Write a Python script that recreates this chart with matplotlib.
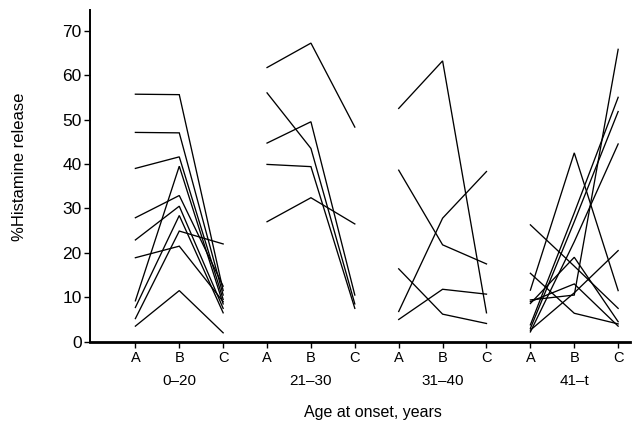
import matplotlib
matplotlib.use("Agg")
import matplotlib.pyplot as plt
import matplotlib.transforms as mtransforms

plt.rcParams['font.family'] = ['Liberation Sans', 'DejaVu Sans']

groups = ["0\u201320", "21\u201330", "31\u201340", "41\u2013t"]
conditions = ["A", "B", "C"]

# Each group: list of (A, B, C) series
g1_A = [55.7, 47.1, 39.0, 27.9, 22.9, 18.9, 9.2, 7.7, 5.2, 3.5]
g1_B = [55.6, 47.0, 41.6, 32.9, 30.5, 21.5, 39.5, 28.4, 24.9, 11.5]
g1_C = [11.5, 10.5, 9.5, 12.5, 7.5, 9.0, 8.5, 6.5, 22.0, 2.0]

g2_A = [61.7, 56.0, 44.7, 39.9, 27.0]
g2_B = [67.2, 43.5, 49.5, 39.4, 32.4]
g2_C = [48.3, 8.5, 10.5, 7.5, 26.5]

g3_A = [52.5, 38.6, 16.4, 6.8, 5.0]
g3_B = [63.2, 21.8, 6.2, 27.8, 11.8]
g3_C = [6.5, 17.5, 4.1, 38.3, 10.7]

g4_A = [26.3, 15.4, 11.6, 9.4, 8.6, 9.0, 3.8, 3.0, 2.2, 2.6]
g4_B = [17.0, 6.4, 42.5, 10.5, 19.0, 13.0, 29.0, 27.0, 22.5, 11.0]
g4_C = [7.5, 4.0, 11.5, 65.8, 4.5, 3.5, 55.0, 51.8, 44.5, 20.5]

group_data = [(g1_A, g1_B, g1_C), (g2_A, g2_B, g2_C),
              (g3_A, g3_B, g3_C), (g4_A, g4_B, g4_C)]

yticks = [0, 10, 20, 30, 40, 50, 60, 70]

W, H = 633, 430
fig = plt.figure(figsize=(W / 100, H / 100), dpi=100)
left_px, right_px, top_px, bottom_px = 90, 630, 10, 341.7
ax = fig.add_axes([left_px / W, 1 - bottom_px / H,
                   (right_px - left_px) / W, (bottom_px - top_px) / H])

for gi, (a, b, c) in enumerate(group_data):
    xs = [gi * 3 + k for k in range(3)]
    for va, vb, vc in zip(a, b, c):
        ax.plot(xs, [va, vb, vc], color='black', lw=0.95, solid_joinstyle='miter')

ax.set_xlim(-1.034, 11.27)
ax.set_ylim(0, 74.65)

for s in ['top', 'right']:
    ax.spines[s].set_visible(False)
ax.spines['left'].set_linewidth(1.4)
ax.spines['bottom'].set_linewidth(2.0)

ax.set_yticks(yticks)
ax.set_yticklabels([str(v) for v in yticks], fontsize=12.5)
ax.tick_params(axis='y', direction='out', length=4, width=1.0, pad=2)

ax.set_xticks(list(range(12)))
ax.set_xticklabels(conditions * 4, fontsize=10.5)
ax.tick_params(axis='x', direction='out', length=4, width=1.0, pad=3)

trans = mtransforms.blended_transform_factory(ax.transData, ax.transAxes)
for gi, g in enumerate(groups):
    ax.text(gi * 3 + 1, (bottom_px - 381) / (bottom_px - top_px), g,
            transform=trans, ha='center', va='center', fontsize=11)

fig.text(373 / W, 1 - 413 / H, "Age at onset, years", ha='center', va='center',
         fontsize=11.5)
fig.text(20 / W, 1 - 167 / H, "%Histamine release", ha='center', va='center',
         rotation=90, fontsize=12)

fig.savefig("out.png", dpi=100)
